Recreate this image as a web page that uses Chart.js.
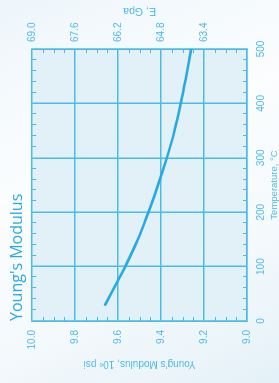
<!DOCTYPE html>
<html>
<head>
<meta charset="utf-8">
<script src="https://cdn.jsdelivr.net/npm/chart.js@4.4.1/dist/chart.umd.min.js"></script>
<style>
  html, body { margin: 0; padding: 0; }
  body {
    width: 279px; height: 383px; overflow: hidden; position: relative;
    background: linear-gradient(155deg, #eef6fb 0%, #fbfdfe 40%, #f4f9fc 70%, #e4f1f8 100%);
  }
  /* chart is drawn landscape and turned a quarter turn, like the original sheet */
  #wrap {
    position: absolute; left: 0; top: 0; width: 383px; height: 279px;
    transform-origin: 0 0; transform: translate(0px, 383px) rotate(-90deg);
  }
</style>
</head>
<body>
<div id="wrap"><canvas id="modulusChart" width="383" height="279"></canvas></div>
<script>
// temperature, deg C
const temperatures = [30, 75, 100, 150, 200, 250, 300, 350, 400, 450, 500];
// Young's modulus, 10^6 psi
const modulusPsi = [9.66, 9.60, 9.567, 9.508, 9.459, 9.414, 9.373, 9.337, 9.308, 9.283, 9.26];
// E, GPa labels sitting on the psi gridlines
const psiTicks = [10.0, 9.8, 9.6, 9.4, 9.2];
const gpaLabels = ['69.0', '67.6', '66.2', '64.8', '63.4'];

const lineColor = '#27aae1';
const gridColor = '#4cbce6';
const plotFill = '#e2f0f8';
const labelColor = '#4fbae5';
const titleColor = '#2aa9df';

const framePlugin = {
  id: 'frame',
  beforeDraw(chart) {
    const { ctx, chartArea: a } = chart;
    ctx.save();
    ctx.fillStyle = plotFill;
    ctx.fillRect(a.left, a.top, a.right - a.left, a.bottom - a.top);
    ctx.restore();
  },
  afterDraw(chart) {
    const { ctx, chartArea: a, scales } = chart;
    ctx.save();
    // inward minor ticks on all four sides
    ctx.strokeStyle = gridColor;
    ctx.lineWidth = 1;
    ctx.beginPath();
    for (let t = 20; t < 500; t += 20) {
      if (t % 100 === 0) continue;
      const x = Math.round(scales.x.getPixelForValue(t)) + 0.5;
      ctx.moveTo(x, a.top); ctx.lineTo(x, a.top + 4);
      ctx.moveTo(x, a.bottom); ctx.lineTo(x, a.bottom - 4);
    }
    for (let k = 1; k < 20; k++) {
      if (k % 4 === 0) continue;
      const y = Math.round(scales.y.getPixelForValue(9 + k * 0.05)) + 0.5;
      ctx.moveTo(a.left, y); ctx.lineTo(a.left + 4, y);
      ctx.moveTo(a.right, y); ctx.lineTo(a.right - 4, y);
    }
    ctx.stroke();
    // E, GPa axis title (reads the same way as the left one)
    ctx.fillStyle = labelColor;
    ctx.font = '10.5px "Liberation Sans", Arial, sans-serif';
    ctx.textAlign = 'center';
    ctx.textBaseline = 'middle';
    ctx.translate(scales.y2.right - 11, (a.top + a.bottom) / 2);
    ctx.rotate(-Math.PI / 2);
    ctx.fillText('E, Gpa', 0, 0);
    ctx.restore();
  }
};

const tickFont = { family: '"Liberation Sans", Arial, sans-serif', size: 10 };

new Chart(document.getElementById('modulusChart'), {
  type: 'line',
  data: {
    datasets: [{
      data: temperatures.map((t, i) => ({ x: t, y: modulusPsi[i] })),
      borderColor: lineColor,
      borderWidth: 2.6,
      borderCapStyle: 'round',
      pointRadius: 0,
      fill: false,
      tension: 0.4
    }]
  },
  options: {
    responsive: false,
    animation: false,
    layout: { padding: 0 },
    plugins: {
      legend: { display: false },
      tooltip: { enabled: false },
      title: {
        display: true,
        text: "Young's Modulus",
        align: 'start',
        fullSize: false,
        color: titleColor,
        font: { family: '"Open Sans", sans-serif', size: 16, weight: 'normal' },
        padding: { top: 8, bottom: 5 }
      }
    },
    scales: {
      x: {
        type: 'linear',
        min: 0,
        max: 500,
        afterFit: s => { s.height = 32; },
        grid: { color: gridColor, lineWidth: 1.5, drawTicks: false },
        border: { color: gridColor, width: 1.5 },
        ticks: { stepSize: 100, maxRotation: 0, padding: 8, color: labelColor, font: tickFont },
        title: {
          display: true,
          text: 'Temperature, °C',
          color: labelColor,
          font: { family: '"Liberation Sans", Arial, sans-serif', size: 9.5, lineHeight: 1 },
          padding: { top: 0, bottom: 0 }
        }
      },
      y: {
        type: 'linear',
        position: 'left',
        min: 9,
        max: 10,
        afterFit: s => { s.width = 62; },
        grid: { color: gridColor, lineWidth: 1.5, drawTicks: false },
        border: { color: gridColor, width: 1.5 },
        ticks: { stepSize: 0.2, padding: 9, color: labelColor, font: tickFont, callback: v => v.toFixed(1) },
        title: {
          display: true,
          text: 'Young\u2019s Modulus, 10\u2076 psi',
          color: labelColor,
          font: { family: '"Liberation Sans", Arial, sans-serif', size: 10 },
          padding: { top: 13, bottom: 0 }
        }
      },
      y2: {
        type: 'linear',
        position: 'right',
        min: 9,
        max: 10,
        afterFit: s => { s.width = 49; },
        grid: { drawOnChartArea: false, drawTicks: false },
        border: { color: gridColor, width: 1.5 },
        ticks: {
          stepSize: 0.2, padding: 7, color: labelColor, font: tickFont,
          callback: v => {
            const i = psiTicks.findIndex(p => Math.abs(p - v) < 1e-6);
            return i >= 0 ? gpaLabels[i] : '';
          }
        }
      }
    }
  },
  plugins: [framePlugin]
});
</script>
</body>
</html>
